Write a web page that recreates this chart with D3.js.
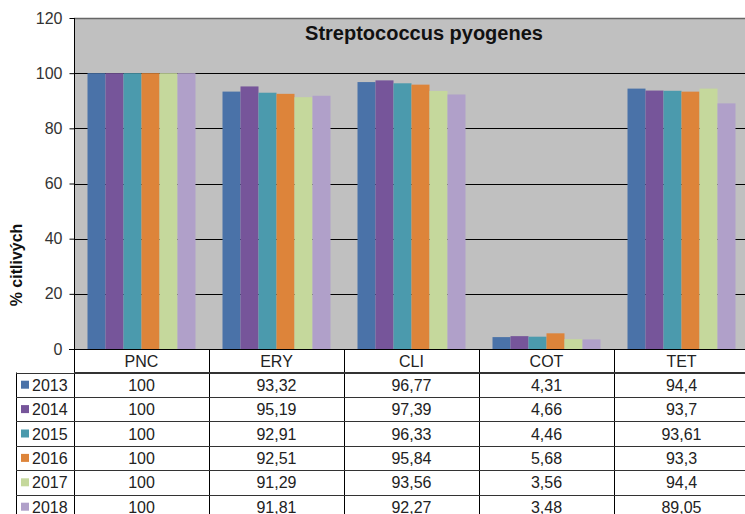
<!DOCTYPE html>
<html><head><meta charset="utf-8">
<script src="https://cdn.jsdelivr.net/npm/d3@7"></script>
<style>html,body{margin:0;padding:0;background:#fff;overflow:hidden}</style>
</head><body>
<svg id="c" width="745" height="514"></svg>
<script>
const categories = ["PNC","ERY","CLI","COT","TET"];
const years = ["2013","2014","2015","2016","2017","2018"];
const values2013 = [100, 93.32, 96.77, 4.31, 94.4];
const values2014 = [100, 95.19, 97.39, 4.66, 93.7];
const values2015 = [100, 92.91, 96.33, 4.46, 93.61];
const values2016 = [100, 92.51, 95.84, 5.68, 93.3];
const values2017 = [100, 91.29, 93.56, 3.56, 94.4];
const values2018 = [100, 91.81, 92.27, 3.48, 89.05];
const labels2013 = ["100","93,32","96,77","4,31","94,4"];
const labels2014 = ["100","95,19","97,39","4,66","93,7"];
const labels2015 = ["100","92,91","96,33","4,46","93,61"];
const labels2016 = ["100","92,51","95,84","5,68","93,3"];
const labels2017 = ["100","91,29","93,56","3,56","94,4"];
const labels2018 = ["100","91,81","92,27","3,48","89,05"];
const yTicks = [0,20,40,60,80,100,120];
const colors = ["#4a72a8","#76559a","#4b9aad","#dd843a","#c5d89c","#b0a0c9"];
const chartTitle = "Streptococcus pyogenes";
const yLabel = "% citlivých";

(function(){
const series = [values2013,values2014,values2015,values2016,values2017,values2018];
const seriesLabels = [labels2013,labels2014,labels2015,labels2016,labels2017,labels2018];

const svg = d3.select("#c");
const font = "'Liberation Sans', Arial, sans-serif";
const pL = 74, pR = 749, pT = 18, pB = 349;

const x = d3.scaleBand().domain(categories).range([pL, pR]).paddingInner(0).paddingOuter(0);
const xi = d3.scaleBand().domain(years).range([13.5, x.bandwidth() - 13.5]).padding(0);
const y = d3.scaleLinear().domain([0,120]).range([pB, pT]);

svg.append("rect").attr("x", pL).attr("y", pT).attr("width", pR-pL).attr("height", pB-pT).attr("fill", "#c0c0c0");

svg.append("g").selectAll("line").data(yTicks.filter(t => t > 0 && t < 120)).join("line")
  .attr("x1", pL).attr("x2", pR).attr("y1", d => Math.round(y(d))+0.5).attr("y2", d => Math.round(y(d))+0.5)
  .attr("stroke", "#000").attr("stroke-width", 1);
svg.append("line").attr("x1", pL).attr("x2", pR).attr("y1", pT+0.5).attr("y2", pT+0.5).attr("stroke", "#666").attr("stroke-width", 1.5);

const barData = [];
series.forEach((s, si) => s.forEach((v, ci) => barData.push({year: years[si], cat: categories[ci], v, color: colors[si]})));
svg.append("g").selectAll("rect").data(barData).join("rect")
  .attr("x", d => x(d.cat) + xi(d.year))
  .attr("width", xi.bandwidth())
  .attr("y", d => y(d.v))
  .attr("height", d => y(0) - y(d.v))
  .attr("fill", d => d.color);

const yAxis = d3.axisLeft(y).tickValues(yTicks).tickSize(5).tickPadding(7).tickFormat(d3.format("d"));
const ya = svg.append("g").attr("transform", `translate(${pL+0.5},0)`).call(yAxis);
ya.select(".domain").attr("stroke", "#000").attr("d", `M0,${pT}V${pB}`);
ya.selectAll(".tick line").attr("stroke", "#000");
ya.selectAll(".tick text").attr("font-family", font).attr("font-size", 16).attr("fill", "#333");

svg.append("line").attr("x1", pL-5).attr("x2", pR).attr("y1", pB+0.5).attr("y2", pB+0.5).attr("stroke", "#000");

svg.append("text").attr("x", 424).attr("y", 40).attr("text-anchor", "middle")
  .attr("font-family", font).attr("font-weight", "bold").attr("font-size", 20).attr("fill", "#111").text(chartTitle);

svg.append("text").attr("transform", "translate(22,265) rotate(-90)").attr("text-anchor", "middle")
  .attr("font-family", font).attr("font-weight", "bold").attr("font-size", 16).attr("fill", "#111").text(yLabel);

const rowH = 24.4;
const headerBottom = 372.5;
const rowY = i => headerBottom + i * rowH;
const tbl = svg.append("g");
tbl.append("line").attr("x1", pL+0.5).attr("x2", pL+0.5).attr("y1", pB).attr("y2", 514).attr("stroke", "#000");
categories.slice(1).forEach(c => {
  tbl.append("line").attr("x1", Math.round(x(c))+0.5).attr("x2", Math.round(x(c))+0.5).attr("y1", pB).attr("y2", 514).attr("stroke", "#000");
});
tbl.append("line").attr("x1", 16.5).attr("x2", 16.5).attr("y1", headerBottom).attr("y2", 514).attr("stroke", "#000");
tbl.append("line").attr("x1", pL).attr("x2", pR).attr("y1", headerBottom).attr("y2", headerBottom).attr("stroke", "#333");
years.forEach((yr, i) => {
  const yy = Math.round(rowY(i)) + 0.5;
  tbl.append("line").attr("x1", 16).attr("x2", pR).attr("y1", yy).attr("y2", yy).attr("stroke", "#333");
});
tbl.selectAll("text.h").data(categories).join("text").attr("class","h")
  .attr("x", d => x(d) + x.bandwidth()/2).attr("y", 367).attr("text-anchor", "middle")
  .attr("font-family", font).attr("font-size", 16).attr("fill", "#222").text(d => d);
years.forEach((yr, i) => {
  const cy = rowY(i) + rowH/2;
  tbl.append("rect").attr("x", 21).attr("y", cy - 4).attr("width", 8).attr("height", 8).attr("fill", colors[i]);
  tbl.append("text").attr("x", 32).attr("y", cy + 6).attr("font-family", font).attr("font-size", 16).attr("fill", "#222").text(yr);
  tbl.selectAll(null).data(categories).join("text")
    .attr("x", d => x(d) + x.bandwidth()/2).attr("y", cy + 6).attr("text-anchor", "middle")
    .attr("font-family", font).attr("font-size", 16).attr("fill", "#222")
    .text((d, ci) => seriesLabels[i][ci]);
});
})();
</script>
</body></html>
